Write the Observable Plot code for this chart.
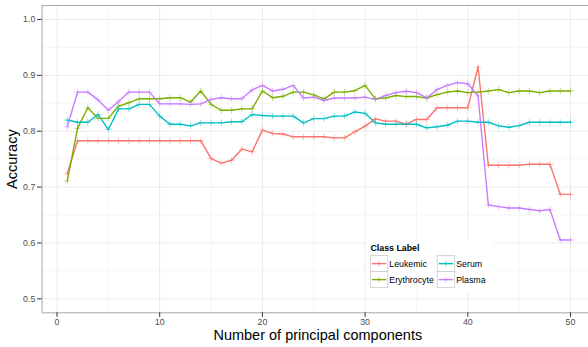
<!DOCTYPE html>
<html>
<head>
<meta charset="utf-8">
<script src="https://cdn.jsdelivr.net/npm/d3@7"></script>
<script src="https://cdn.jsdelivr.net/npm/@observablehq/plot@0.6"></script>
<style>
  html, body { margin: 0; padding: 0; background: white; overflow: hidden; }
  #chart svg { display: block; overflow: hidden; }
</style>
</head>
<body>
<div id="chart"></div>
<script>
const pcs = [1,2,3,4,5,6,7,8,9,10,11,12,13,14,15,16,17,18,19,20,21,22,23,24,25,26,27,28,29,30,31,32,33,34,35,36,37,38,39,40,41,42,43,44,45,46,47,48,49,50];

const leukemic = [0.724,0.783,0.783,0.783,0.783,0.783,0.783,0.783,0.783,0.783,
  0.783,0.783,0.783,0.783,0.751,0.743,0.748,0.768,0.763,0.802,
  0.796,0.795,0.790,0.790,0.790,0.790,0.788,0.788,0.799,0.809,
  0.822,0.818,0.818,0.8125,0.821,0.821,0.842,0.842,0.842,0.842,
  0.915,0.739,0.739,0.739,0.739,0.741,0.741,0.741,0.687,0.687];

const erythrocyte = [0.711,0.805,0.842,0.823,0.823,0.845,0.851,0.858,0.858,0.858,
  0.860,0.860,0.852,0.872,0.848,0.8375,0.8375,0.840,0.840,0.872,
  0.860,0.8625,0.870,0.870,0.865,0.858,0.870,0.870,0.8725,0.882,
  0.858,0.8595,0.864,0.862,0.862,0.8595,0.8655,0.870,0.872,0.869,
  0.870,0.872,0.8745,0.869,0.872,0.872,0.869,0.872,0.872,0.872];

const serum = [0.820,0.816,0.816,0.830,0.803,0.840,0.840,0.848,0.848,0.827,
  0.8125,0.8125,0.8095,0.815,0.815,0.815,0.817,0.817,0.830,0.828,
  0.827,0.827,0.827,0.815,0.8226,0.8226,0.827,0.827,0.8345,0.832,
  0.815,0.8125,0.8125,0.8125,0.8125,0.806,0.808,0.8107,0.818,0.818,
  0.816,0.816,0.8095,0.807,0.810,0.816,0.816,0.816,0.816,0.816];

const plasma = [0.808,0.870,0.870,0.856,0.8375,0.853,0.870,0.870,0.870,0.849,
  0.849,0.849,0.848,0.849,0.857,0.860,0.858,0.858,0.874,0.882,
  0.872,0.875,0.882,0.8595,0.861,0.855,0.8595,0.8595,0.8595,0.861,
  0.857,0.864,0.869,0.8715,0.869,0.8595,0.8745,0.882,0.887,0.885,
  0.863,0.668,0.665,0.6625,0.6625,0.660,0.6577,0.660,0.6054,0.6054];

const classLabels = ["Leukemic", "Erythrocyte", "Serum", "Plasma"];
const classColors = ["#F8766D", "#7CAE00", "#00BFC4", "#C77CFF"];

const xMajor = [0, 10, 20, 30, 40, 50];
const xMinor = [5, 15, 25, 35, 45];
const yMajor = [0.5, 0.6, 0.7, 0.8, 0.9, 1.0];
const yMinor = [0.55, 0.65, 0.75, 0.85, 0.95];

const xTitle = "Number of principal components";
const yTitle = "Accuracy";
const legendTitle = "Class Label";

const seriesList = [leukemic, erythrocyte, serum, plasma];
const rows = classLabels.flatMap((cls, i) => pcs.map((pc, j) => ({pc, acc: seriesList[i][j], cls})));

const FONT = "Liberation Sans, Arial, Helvetica, sans-serif";
const W = 588, H = 347;
const panelL = 41.6, panelT = 5, panelB = 312.3;
const xDom = [-1.45, 52.45];
const yDom = [0.475, 1.025];

const plot = Plot.plot({
  width: W,
  height: H,
  marginLeft: panelL,
  marginRight: 0,
  marginTop: panelT,
  marginBottom: H - panelB,
  style: {fontFamily: FONT, background: "white", overflow: "hidden"},
  x: {domain: xDom, range: [panelL, panelL + (xDom[1] - xDom[0]) * 10.27], axis: null},
  y: {domain: yDom, range: [panelB, panelT], axis: null},
  color: {domain: classLabels, range: classColors},
  marks: [
    Plot.ruleX(xMinor, {stroke: "#f4f4f4", strokeWidth: 0.8, clip: true}),
    Plot.ruleY(yMinor, {stroke: "#f4f4f4", strokeWidth: 0.8, clip: true}),
    Plot.ruleX(xMajor, {stroke: "#ebebeb", strokeWidth: 1, clip: true}),
    Plot.ruleY(yMajor, {stroke: "#ebebeb", strokeWidth: 1, clip: true}),
    Plot.line(rows, {x: "pc", y: "acc", stroke: "cls", z: "cls", strokeWidth: 1.4, clip: true}),
    Plot.dot(rows, {x: "pc", y: "acc", stroke: "cls", symbol: "plus", r: 2.2, strokeWidth: 0.85, strokeOpacity: 0.55, clip: true}),
    Plot.ruleX([xDom[0]], {stroke: "#a6a6a6", strokeWidth: 1}),
    Plot.ruleY([yDom[0], yDom[1]], {stroke: "#a6a6a6", strokeWidth: 1}),
    Plot.axisX(xMajor, {anchor: "bottom", tickSize: 4.5, tickPadding: 1.5, fontSize: 8.8, stroke: "#333", fill: "#4d4d4d", label: null, tickFormat: d => String(d)}),
    Plot.axisY(yMajor, {anchor: "left", tickSize: 4.5, tickPadding: 2.3, fontSize: 8.8, stroke: "#333", fill: "#4d4d4d", label: null, tickFormat: d3.format(".1f")}),
    Plot.text([xTitle], {frameAnchor: "bottom", dx: 2.5, dy: 22.5, fontSize: 14.5, fill: "black", lineAnchor: "middle", text: d => d}),
    Plot.text([yTitle], {frameAnchor: "left", dx: -29.5, rotate: -90, fontSize: 14.5, fill: "black", textAnchor: "middle", lineAnchor: "middle", text: d => d})
  ]
});

document.getElementById("chart").appendChild(plot);

// Legend (inside the panel, ggplot-style)
const color = plot.scale("color");
const svg = d3.select(plot);
const lg = svg.append("g").attr("font-family", FONT).attr("text-anchor", "start");
lg.append("rect").attr("x", 366).attr("y", 240.5).attr("width", 127).attr("height", 50).attr("fill", "white");
lg.append("text").attr("x", 370.5).attr("y", 251.3).attr("text-anchor", "start").attr("font-size", 8.8).attr("font-weight", "bold").attr("fill", "black").text(legendTitle);
const keyW = 17.5, keyH = 16;
const cols = [370.3, 437.2];
const rowsY = [255.6, 271.6];
classLabels.forEach((lab, i) => {
  const cx = cols[Math.floor(i / 2)];
  const cy = rowsY[i % 2];
  const g = lg.append("g");
  g.append("rect").attr("x", cx).attr("y", cy).attr("width", keyW).attr("height", keyH)
    .attr("fill", "white").attr("stroke", "#cccccc").attr("stroke-width", 0.8);
  const c = color.apply(lab);
  g.append("line").attr("x1", cx + 1.5).attr("x2", cx + keyW - 1.5).attr("y1", cy + keyH / 2).attr("y2", cy + keyH / 2)
    .attr("stroke", c).attr("stroke-width", 1.4);
  const mx = cx + keyW / 2, my = cy + keyH / 2, s = 2.6;
  g.append("path").attr("d", `M${mx - s},${my}H${mx + s}M${mx},${my - s}V${my + s}`)
    .attr("stroke", c).attr("stroke-width", 0.9).attr("stroke-opacity", 0.6).attr("fill", "none");
  g.append("text").attr("x", cx + keyW + 1.5).attr("y", cy + keyH / 2 + 3.2).attr("text-anchor", "start").attr("font-size", 8.8).attr("fill", "black").text(lab);
});
</script>
</body>
</html>
